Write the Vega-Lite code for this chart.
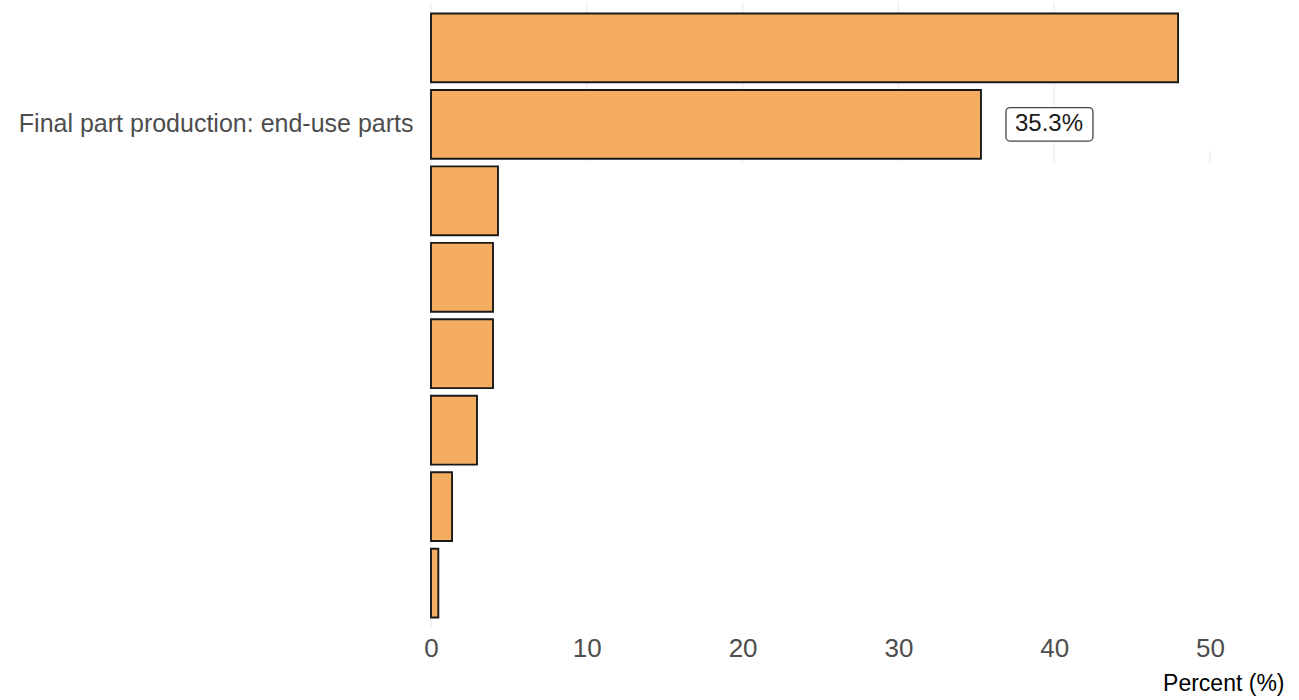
{
  "$schema": "https://vega.github.io/schema/vega-lite/v6.json",
  "autosize": "none",
  "width": 853,
  "height": 627,
  "padding": {"left": 431, "top": 2, "right": 15, "bottom": 71},
  "background": "white",
  "config": {"view": {"stroke": null}, "font": "Liberation Sans"},
  "datasets": {
    "bars": [
      {"category": "Category A", "value": 47.95, "label": null},
      {"category": "Final part production: end-use parts", "value": 35.3, "label": "35.3%"},
      {"category": "Category C", "value": 4.3, "label": null},
      {"category": "Category D", "value": 3.98, "label": null},
      {"category": "Category E", "value": 3.98, "label": null},
      {"category": "Category F", "value": 2.95, "label": null},
      {"category": "Category G", "value": 1.35, "label": null},
      {"category": "Category H", "value": 0.47, "label": null}
    ],
    "grid": [
      {"tick": 0, "y0": 0, "y1": 8.2},
      {"tick": 10, "y0": 0, "y1": 2.1},
      {"tick": 20, "y0": 0, "y1": 2.1},
      {"tick": 30, "y0": 0, "y1": 2.1},
      {"tick": 40, "y0": 0, "y1": 2.1},
      {"tick": 50, "y0": 1.95, "y1": 2.1}
    ]
  },
  "layer": [
    {
      "data": {"name": "grid"},
      "mark": {"type": "rule", "color": "#ebebeb", "strokeWidth": 1.1},
      "encoding": {
        "x": {
          "field": "tick", "type": "quantitative",
          "scale": {"domain": [0, 54.75], "nice": false, "zero": true},
          "axis": {
            "values": [0, 10, 20, 30, 40, 50], "grid": false, "ticks": false, "domain": false,
            "labelFontSize": 26, "labelColor": "#4d4d4d", "labelPadding": 6, "labelFlush": false,
            "title": "Percent (%)", "titleAnchor": "end", "titleFontSize": 23,
            "titleFontWeight": "normal", "titleColor": "#000000", "titlePadding": 11
          }
        },
        "y": {"field": "y0", "type": "quantitative", "scale": {"domain": [0, 8.2], "reverse": true, "nice": false, "zero": false}, "axis": null},
        "y2": {"field": "y1"}
      }
    },
    {
      "data": {"name": "bars"},
      "layer": [
        {
          "mark": {"type": "bar", "fill": "#F5AE61", "stroke": "#1a1a1a", "strokeWidth": 1.9},
          "encoding": {
            "x": {"field": "value", "type": "quantitative"},
            "y": {
              "field": "category", "type": "nominal", "sort": null,
              "scale": {"paddingInner": 0.1, "paddingOuter": 0.15},
              "axis": {
                "title": null, "ticks": false, "domain": false, "grid": false,
                "labelFontSize": 25, "labelColor": "#4d4d4d", "labelPadding": 18, "labelLimit": 500,
                "labelExpr": "datum.value == 'Final part production: end-use parts' ? datum.value : ''"
              }
            }
          }
        },
        {
          "transform": [{"filter": "datum.label != null"}],
          "mark": {"type": "bar", "fill": "white", "stroke": "#444444", "strokeWidth": 1.3, "cornerRadius": 4, "xOffset": 25, "x2Offset": 112, "height": {"band": 0.485}},
          "encoding": {
            "x": {"field": "value", "type": "quantitative"},
            "x2": {"field": "value"},
            "y": {"field": "category", "type": "nominal", "sort": null}
          }
        },
        {
          "transform": [{"filter": "datum.label != null"}],
          "mark": {"type": "text", "dx": 68, "align": "center", "baseline": "middle", "fontSize": 24, "font": "Liberation Sans", "color": "#1a1a1a"},
          "encoding": {
            "x": {"field": "value", "type": "quantitative"},
            "y": {"field": "category", "type": "nominal", "sort": null},
            "text": {"field": "label"}
          }
        }
      ]
    }
  ],
  "resolve": {"scale": {"y": "independent"}}
}
